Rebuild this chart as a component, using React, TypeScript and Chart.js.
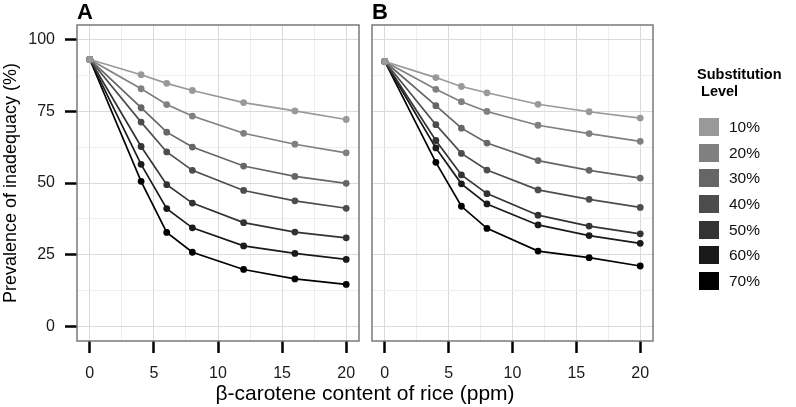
import React, { useEffect, useRef } from 'react';
import { Chart, registerables } from 'chart.js';

Chart.register(...registerables);

// ---- Data ----
const betaCarotene = [0, 4, 6, 8, 12, 16, 20];
const substitutionLevels = ['10%', '20%', '30%', '40%', '50%', '60%', '70%'];
const levelColors = ['#999999', '#808080', '#666666', '#4d4d4d', '#333333', '#1a1a1a', '#000000'];

const panelA10 = [93.0, 87.7, 84.7, 82.2, 78.0, 75.1, 72.1];
const panelA20 = [93.0, 82.8, 77.3, 73.3, 67.3, 63.5, 60.5];
const panelA30 = [93.0, 76.2, 67.7, 62.5, 55.9, 52.3, 49.9];
const panelA40 = [93.0, 71.2, 60.8, 54.4, 47.4, 43.8, 41.2];
const panelA50 = [93.0, 62.7, 49.4, 43.0, 36.2, 32.9, 30.9];
const panelA60 = [93.0, 56.5, 41.1, 34.4, 28.1, 25.5, 23.4];
const panelA70 = [93.0, 50.6, 32.8, 25.9, 19.9, 16.6, 14.7];

const panelB10 = [92.3, 86.7, 83.6, 81.4, 77.4, 74.8, 72.6];
const panelB20 = [92.3, 82.6, 78.3, 74.9, 70.1, 67.2, 64.5];
const panelB30 = [92.3, 76.9, 69.1, 63.9, 57.8, 54.4, 51.7];
const panelB40 = [92.3, 70.3, 60.3, 54.5, 47.6, 44.3, 41.5];
const panelB50 = [92.3, 64.8, 52.8, 46.3, 38.8, 35.0, 32.3];
const panelB60 = [92.3, 62.2, 49.7, 42.7, 35.4, 31.7, 29.0];
const panelB70 = [92.3, 57.2, 41.9, 34.2, 26.3, 24.0, 21.1];

const panelASeries = [panelA10, panelA20, panelA30, panelA40, panelA50, panelA60, panelA70];
const panelBSeries = [panelB10, panelB20, panelB30, panelB40, panelB50, panelB60, panelB70];

const xTickValues = [0, 5, 10, 15, 20];
const yTickValues = [0, 25, 50, 75, 100];

const X_MIN = -1;
const X_MAX = 21;
const Y_MIN = -5;
const Y_MAX = 105;

const FONT = '"Liberation Sans", Arial, Helvetica, sans-serif';

const withMinors = (majors: number[]) => {
  const out: number[] = [];
  for (let i = 0; i < majors.length; i++) {
    out.push(majors[i]);
    if (i < majors.length - 1) out.push((majors[i] + majors[i + 1]) / 2);
  }
  return out;
};

const xAll = withMinors(xTickValues);
const yAll = withMinors(yTickValues);
const isMajorX = (v: number) => xTickValues.includes(v);
const isMajorY = (v: number) => yTickValues.includes(v);

const borderPlugin = {
  id: 'panelBorder',
  afterDraw(chart: any) {
    const { ctx, chartArea } = chart;
    ctx.save();
    ctx.strokeStyle = '#7a7a7a';
    ctx.lineWidth = 1.5;
    ctx.strokeRect(chartArea.left, chartArea.top, chartArea.right - chartArea.left, chartArea.bottom - chartArea.top);
    ctx.restore();
  },
};

function makeConfig(series: number[][], panel: 'A' | 'B'): any {
  const datasets = series.map((vals, i) => ({
    label: substitutionLevels[i],
    data: betaCarotene.map((x, j) => ({ x, y: vals[j] })),
    borderColor: levelColors[i],
    backgroundColor: levelColors[i],
    pointBackgroundColor: levelColors[i],
    pointBorderWidth: 0,
    pointRadius: 3.4,
    borderWidth: 1.7,
    tension: 0,
  }));
  const isA = panel === 'A';
  const left = isA ? 0 : 372;
  const right = isA ? 796 - 359 : 796 - 653;
  return {
    type: 'line',
    data: { datasets },
    plugins: [borderPlugin],
    options: {
      animation: false,
      responsive: false,
      events: [],
      layout: { padding: { left, right, top: 25, bottom: 0 } },
      plugins: { legend: { display: false }, tooltip: { enabled: false }, title: { display: false } },
      scales: {
        x: {
          type: 'linear',
          min: X_MIN,
          max: X_MAX,
          afterBuildTicks: (axis: any) => {
            axis.ticks = xAll.map((v) => ({ value: v }));
          },
          afterFit: (axis: any) => {
            axis.height = 66;
          },
          border: { display: false },
          grid: {
            color: (c: any) => (c.tick && isMajorX(c.tick.value) ? '#dadada' : '#eeeeee'),
            lineWidth: 1,
            tickLength: 12,
            tickWidth: 2.5,
            tickColor: (c: any) => (c.tick && isMajorX(c.tick.value) ? '#000000' : 'rgba(0,0,0,0)'),
          },
          ticks: {
            autoSkip: false,
            maxRotation: 0,
            padding: 11,
            color: '#1a1a1a',
            font: { family: FONT, size: 16 },
            callback: (v: any) => (isMajorX(Number(v)) ? String(v) : ''),
          },
        },
        y: {
          type: 'linear',
          min: Y_MIN,
          max: Y_MAX,
          afterBuildTicks: (axis: any) => {
            axis.ticks = yAll.map((v) => ({ value: v }));
          },
          afterFit: (axis: any) => {
            axis.width = isA ? 77 : 0;
          },
          border: { display: false },
          grid: {
            color: (c: any) => (c.tick && isMajorY(c.tick.value) ? '#dadada' : '#eeeeee'),
            lineWidth: 1,
            drawTicks: isA,
            tickLength: 12,
            tickWidth: 2.5,
            tickColor: (c: any) => (c.tick && isMajorY(c.tick.value) ? '#000000' : 'rgba(0,0,0,0)'),
          },
          ticks: {
            display: isA,
            autoSkip: false,
            padding: 10,
            color: '#1a1a1a',
            font: { family: FONT, size: 16 },
            callback: (v: any) => (isMajorY(Number(v)) ? String(v) : ''),
          },
          title: {
            display: isA,
            text: 'Prevalence of inadequacy (%)',
            color: '#000000',
            font: { family: FONT, size: 18 },
            padding: { top: 0, bottom: 0 },
          },
        },
      },
    },
  };
}

function PanelChart({ series, panel }: { series: number[][]; panel: 'A' | 'B' }) {
  const ref = useRef<HTMLCanvasElement | null>(null);
  useEffect(() => {
    if (!ref.current) return;
    const chart = new Chart(ref.current, makeConfig(series, panel));
    return () => chart.destroy();
  }, [series, panel]);
  return (
    <canvas
      ref={ref}
      width={796}
      height={407}
      style={{ position: 'absolute', left: 0, top: 0, width: 796, height: 407 }}
    />
  );
}

export default function App() {
  const legendStart = 127;
  const legendStep = 25.67;
  return (
    <div
      style={{
        position: 'absolute',
        left: 0,
        top: 0,
        width: 796,
        height: 407,
        background: '#ffffff',
        fontFamily: FONT,
        overflow: 'hidden',
      }}
    >
      <PanelChart series={panelASeries} panel="A" />
      <PanelChart series={panelBSeries} panel="B" />

      <div style={{ position: 'absolute', left: 77, top: 1, fontSize: 22, lineHeight: '22px', fontWeight: 'bold', color: '#000' }}>A</div>
      <div style={{ position: 'absolute', left: 372, top: 1, fontSize: 22, lineHeight: '22px', fontWeight: 'bold', color: '#000' }}>B</div>

      <div
        style={{
          position: 'absolute',
          left: 0,
          width: 730,
          top: 382,
          textAlign: 'center',
          fontSize: 21,
          lineHeight: '22px',
          color: '#000',
          whiteSpace: 'nowrap',
        }}
      >
        β-carotene content of rice (ppm)
      </div>

      <div
        style={{
          position: 'absolute',
          left: 697,
          top: 66,
          fontSize: 14.5,
          lineHeight: '17px',
          fontWeight: 'bold',
          color: '#000',
          whiteSpace: 'pre',
        }}
      >
        {'Substitution\n Level'}
      </div>

      {substitutionLevels.map((lvl, i) => {
        const cy = legendStart + i * legendStep;
        return (
          <React.Fragment key={lvl}>
            <div
              style={{
                position: 'absolute',
                left: 699,
                top: cy - 9,
                width: 20,
                height: 18,
                background: levelColors[i],
              }}
            />
            <div
              style={{
                position: 'absolute',
                left: 729,
                top: cy - 9,
                height: 18,
                lineHeight: '18px',
                fontSize: 15.5,
                color: '#111',
              }}
            >
              {lvl}
            </div>
          </React.Fragment>
        );
      })}
    </div>
  );
}
